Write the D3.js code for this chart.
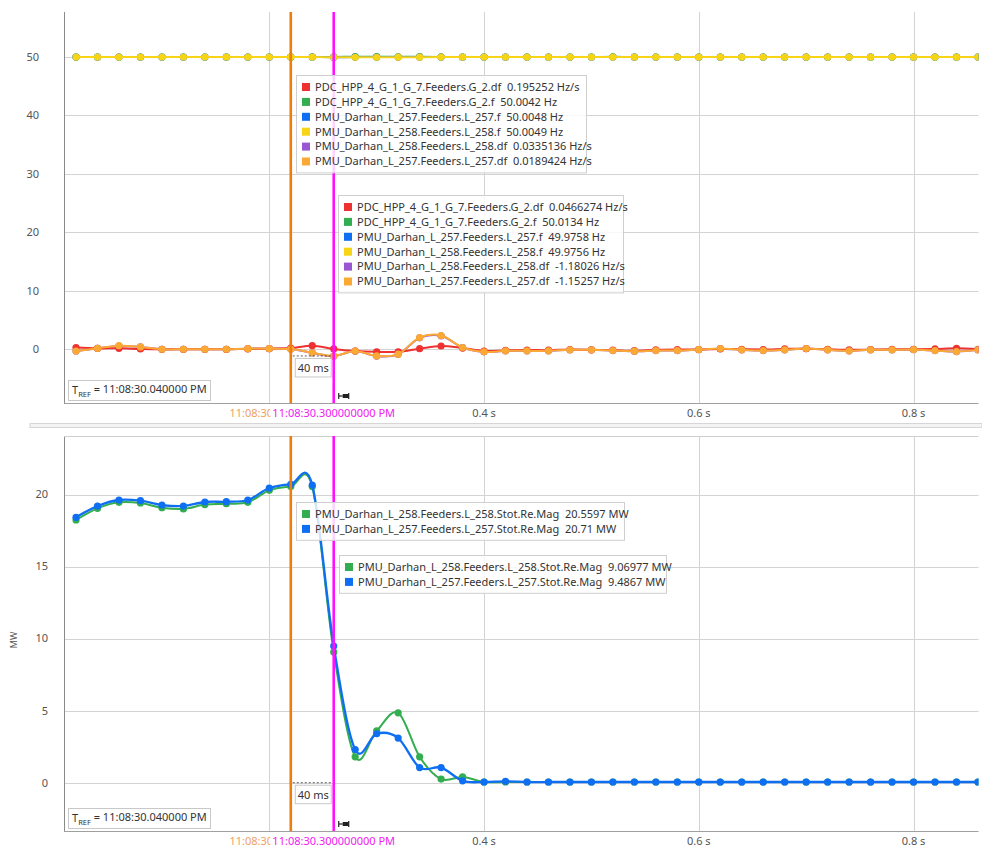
<!DOCTYPE html>
<html>
<head>
<meta charset="utf-8">
<script src="https://cdn.jsdelivr.net/npm/d3@7"></script>
<style>
  html, body { margin: 0; padding: 0; background: #fff; }
  svg { display: block; font-family: "Noto Sans", "Open Sans", sans-serif; }
  text { white-space: pre; }
</style>
</head>
<body>
<svg id="chart" width="982" height="850"></svg>
<script>
// Sample times (s, relative to T_REF), one sample every 20 ms
const times = [0.02,0.04,0.06,0.08,0.10,0.12,0.14,0.16,0.18,0.20,0.22,0.24,0.26,0.28,0.30,
  0.32,0.34,0.36,0.38,0.40,0.42,0.44,0.46,0.48,0.50,0.52,0.54,0.56,0.58,0.60,0.62,0.64,
  0.66,0.68,0.70,0.72,0.74,0.76,0.78,0.80,0.82,0.84,0.86];

// Frequency panel series (Hz and Hz/s)
const g2Freq = [50.00,50.00,50.00,50.00,50.00,50.00,50.00,50.00,50.00,50.00,50.0042,50.01,50.0134,50.05,50.05,
  50.04,50.05,50.01,50.00,50.00,50.00,50.00,50.00,50.00,50.00,50.04,50.00,50.00,50.00,50.00,50.00,50.00,
  50.00,50.00,50.00,50.00,50.00,50.00,50.00,50.00,50.00,50.00,50.00];
const l257Freq = [49.99,49.99,50.00,50.00,50.00,50.00,50.00,50.00,50.00,50.00,50.0048,50.00,49.9758,49.98,49.98,
  49.99,49.99,50.00,50.00,50.00,50.00,50.00,50.00,50.00,50.00,50.00,50.00,50.00,50.00,50.00,50.00,50.00,
  50.00,50.00,50.00,50.00,50.00,50.00,50.00,50.00,50.00,50.00,50.00];
const l258Freq = [49.98,49.98,49.99,50.00,50.00,50.00,50.00,50.00,50.00,50.00,50.0049,49.99,49.9756,49.96,49.96,
  49.97,49.97,49.98,49.98,49.98,49.98,49.98,49.98,49.98,49.98,49.98,49.98,49.98,49.98,49.98,49.98,49.98,
  49.98,49.98,49.98,49.98,49.98,49.98,49.98,49.98,49.98,49.98,49.98];
const g2Df = [0.30,0.15,0.15,0.05,0.00,0.00,0.00,0.00,0.05,0.10,0.195252,0.60,0.0466274,-0.30,-0.45,
  -0.45,0.10,0.55,0.20,-0.30,-0.20,-0.15,-0.15,-0.05,-0.10,-0.15,-0.25,-0.10,-0.05,-0.05,0.05,0.00,
  -0.05,0.05,0.10,0.00,-0.10,-0.05,0.00,0.00,0.05,0.15,0.00];
const l258Df = [-0.30,0.15,0.55,0.40,0.00,0.00,0.00,0.00,0.10,0.10,0.0335136,-0.62,-1.18026,-0.32,-1.17,
  -0.87,1.95,2.30,0.28,-0.45,-0.28,-0.28,-0.28,-0.10,-0.10,-0.23,-0.34,-0.23,-0.23,-0.06,0.10,-0.11,
  -0.23,-0.11,0.11,-0.11,-0.28,-0.11,-0.11,-0.06,-0.23,-0.40,-0.11];
const l257Df = [-0.30,0.15,0.60,0.40,0.00,0.00,0.00,0.00,0.10,0.10,0.0189424,-0.60,-1.15257,-0.30,-1.15,
  -0.85,2.00,2.35,0.30,-0.45,-0.28,-0.28,-0.28,-0.11,-0.11,-0.23,-0.34,-0.23,-0.23,-0.06,0.11,-0.11,
  -0.23,-0.11,0.11,-0.11,-0.28,-0.11,-0.11,-0.06,-0.23,-0.40,-0.11];

// Active power panel series (MW)
const l258Mw = [18.23,19.04,19.46,19.41,19.08,19.00,19.30,19.36,19.46,20.29,20.5597,20.55,9.06977,1.80,3.60,
  4.85,1.80,0.25,0.40,0.05,0.05,0.05,0.05,0.05,0.05,0.05,0.05,0.05,0.05,0.05,0.05,0.05,
  0.05,0.05,0.05,0.05,0.05,0.05,0.05,0.05,0.05,0.05,0.05];
const l257Mw = [18.42,19.20,19.62,19.57,19.27,19.20,19.48,19.50,19.62,20.45,20.71,20.66,9.4867,2.30,3.40,
  3.10,1.05,1.05,0.13,0.05,0.10,0.05,0.05,0.05,0.05,0.05,0.05,0.05,0.05,0.05,0.05,0.05,
  0.05,0.05,0.05,0.05,0.05,0.05,0.05,0.05,0.05,0.05,0.05];

// Axis ticks
const timeTicks = [0.2, 0.4, 0.6, 0.8];
const timeTickLabels = ["0.2 s", "0.4 s", "0.6 s", "0.8 s"];
const freqTicks = [0, 10, 20, 30, 40, 50];
const mwTicks = [0, 5, 10, 15, 20];

// Cursors
const cursorTimes = [0.22, 0.26];
const cursorLabels = ["11:08:30.260000000 PM", "11:08:30.300000000 PM"];
const deltaLabel = "40 ms";
const trefLabel = " = 11:08:30.040000 PM";

// Series names and cursor-value legends
const freqNames = ["PDC_HPP_4_G_1_G_7.Feeders.G_2.df", "PDC_HPP_4_G_1_G_7.Feeders.G_2.f",
  "PMU_Darhan_L_257.Feeders.L_257.f", "PMU_Darhan_L_258.Feeders.L_258.f",
  "PMU_Darhan_L_258.Feeders.L_258.df", "PMU_Darhan_L_257.Feeders.L_257.df"];
const freqUnits = ["Hz/s", "Hz", "Hz", "Hz", "Hz/s", "Hz/s"];
const freqCursorA = ["0.195252", "50.0042", "50.0048", "50.0049", "0.0335136", "0.0189424"];
const freqCursorB = ["0.0466274", "50.0134", "49.9758", "49.9756", "-1.18026", "-1.15257"];
const mwNames = ["PMU_Darhan_L_258.Feeders.L_258.Stot.Re.Mag", "PMU_Darhan_L_257.Feeders.L_257.Stot.Re.Mag"];
const mwCursorA = ["20.5597", "20.71"];
const mwCursorB = ["9.06977", "9.4867"];

const C = {
  red: "#ee3131", green: "#32ad4f", blue: "#0f6ff2", yellow: "#f7d516",
  purple: "#9b57d3", orange: "#fba935", cursorA: "#ef7d09", cursorB: "#ff10ff"
};
const freqColors = [C.red, C.green, C.blue, C.yellow, C.purple, C.orange];
const mwColors = [C.green, C.blue];

const svg = d3.select("#chart");
const X0 = 64, X1 = 978.5;
const x = d3.scaleLinear().domain([0.0088, 0.8605]).range([X0, X1]);

function panel(cfg) {
  const { top, bottom, y, ticks, tickX, series, id } = cfg;
  const g = svg.append("g");
  g.append("clipPath").attr("id", id).append("rect")
    .attr("x", X0).attr("y", top).attr("width", X1 - X0).attr("height", bottom - top);

  // grid
  g.append("g").selectAll("line.h").data(ticks).join("line")
    .attr("x1", X0).attr("x2", X1).attr("y1", d => Math.round(y(d)) + 0.5).attr("y2", d => Math.round(y(d)) + 0.5)
    .attr("stroke", "#d3d3d3").attr("stroke-width", 1);
  g.append("g").selectAll("line.v").data(timeTicks).join("line")
    .attr("x1", d => Math.round(x(d)) + 0.5).attr("x2", d => Math.round(x(d)) + 0.5)
    .attr("y1", top).attr("y2", bottom)
    .attr("stroke", "#d3d3d3").attr("stroke-width", 1);

  // y tick labels
  g.append("g").selectAll("text").data(ticks).join("text")
    .attr("x", tickX).attr("y", d => y(d)).attr("dy", "0.35em")
    .attr("text-anchor", "end").attr("font-size", 11).attr("fill", "#555")
    .text(d => d);

  // axes
  g.append("line").attr("x1", X0 + 0.5).attr("x2", X0 + 0.5).attr("y1", top).attr("y2", bottom)
    .attr("stroke", "#8a8a8a");
  g.append("line").attr("x1", X0).attr("x2", X1).attr("y1", bottom + 0.5).attr("y2", bottom + 0.5)
    .attr("stroke", "#a0a0a0");

  // series
  const line = d3.line().curve(d3.curveCatmullRom.alpha(0))
    .x((d, i) => x(times[i])).y(d => y(d));
  const sg = g.append("g").attr("clip-path", `url(#${id})`);
  series.forEach(s => {
    sg.append("path").attr("d", line(s.values)).attr("fill", "none")
      .attr("stroke", s.color).attr("stroke-width", s.width || 2).attr("stroke-linejoin", "round");
    sg.append("g").selectAll("circle").data(s.values).join("circle")
      .attr("cx", (d, i) => x(times[i])).attr("cy", d => y(d)).attr("r", 3.6)
      .attr("fill", s.color);
  });
  return g;
}

// ---- frequency panel ----
const yF = d3.scaleLinear().domain([-9.2, 57.7]).range([403, 12]);
panel({
  id: "clipF", top: 12, bottom: 403, y: yF, ticks: freqTicks, tickX: 39,
  series: [
    { values: l258Df, color: C.purple },
    { values: g2Df, color: C.red },
    { values: l257Df, color: C.orange },
    { values: g2Freq, color: C.green },
    { values: l257Freq, color: C.blue },
    { values: l258Freq, color: C.yellow }
  ]
});

// ---- active power panel ----
const yP = d3.scaleLinear().domain([-3.35, 24.06]).range([831, 436]);
panel({
  id: "clipP", top: 436, bottom: 831, y: yP, ticks: mwTicks, tickX: 48,
  series: [
    { values: l258Mw, color: C.green },
    { values: l257Mw, color: C.blue, width: 2.3 }
  ]
});
svg.append("line").attr("x1", X0).attr("x2", X1).attr("y1", 436.5).attr("y2", 436.5).attr("stroke", "#cfcfcf");
svg.append("text").attr("transform", "translate(17,640) rotate(-90)")
  .attr("text-anchor", "middle").attr("font-size", 9).attr("fill", "#555").text("MW");

// panel separator
svg.append("rect").attr("x", 30).attr("y", 423.5).attr("width", 952).attr("height", 4)
  .attr("fill", "#f3f3f3").attr("stroke", "#d6d6d6");

// ---- cursors, time labels, annotations ----
let clipCount = 0;
function cursors(top, bottom, deltaY, tAxisY) {
  const g = svg.append("g");

  cursorTimes.forEach((t, i) => {
    g.append("line").attr("x1", x(t)).attr("x2", x(t)).attr("y1", top).attr("y2", bottom)
      .attr("stroke", i === 0 ? C.cursorA : C.cursorB).attr("stroke-width", 2.6);
  });

  // cursor time labels: the later cursor's label hides the tail of the earlier one
  const labelLayer = g.append("g");
  const labA = labelLayer.append("text").attr("x", x(cursorTimes[0])).attr("y", tAxisY).attr("dy", "0.35em")
    .attr("text-anchor", "middle").attr("font-size", 11).attr("fill", "#f0a064").text(cursorLabels[0]);
  const labB = labelLayer.append("text").attr("x", x(cursorTimes[1])).attr("y", tAxisY).attr("dy", "0.35em")
    .attr("text-anchor", "middle").attr("font-size", 11).attr("fill", "#f020f0").text(cursorLabels[1]);
  const b0 = labA.node().getBBox(), b1 = labB.node().getBBox();
  // keep only the visible head of the earlier label, clipped where the later label starts
  const visibleEnd = b1.x - 2;
  labA.attr("x", b0.x).attr("text-anchor", "start").text(cursorLabels[0].slice(0, 8));
  const cid = "cur" + (clipCount++);
  g.append("clipPath").attr("id", cid).append("rect")
    .attr("x", b0.x - 2).attr("y", b0.y - 2).attr("width", visibleEnd - b0.x + 2).attr("height", b0.height + 4);
  labA.attr("clip-path", `url(#${cid})`);

  // time tick labels that are not covered by cursor labels
  const left = b0.x - 2, right = b1.x + b1.width + 2;
  g.selectAll("text.tick").data(timeTicks.filter(d => x(d) + 14 < left || x(d) - 14 > right)).join("text")
    .attr("class", "tick")
    .attr("x", d => x(d)).attr("y", tAxisY).attr("dy", "0.35em").attr("text-anchor", "middle")
    .attr("font-size", 11).attr("fill", "#555").text(d => timeTickLabels[timeTicks.indexOf(d)]);

  // delta marker between cursors
  const xa = x(cursorTimes[0]), xb = x(cursorTimes[1]);
  g.append("line").attr("x1", xa + 2).attr("x2", xb - 2).attr("y1", deltaY).attr("y2", deltaY)
    .attr("stroke", "#333").attr("stroke-dasharray", "2,2").attr("stroke-width", 0.8);
  g.append("rect").attr("x", xa + 4.5).attr("y", deltaY + 2.5).attr("width", 36).attr("height", 18.5)
    .attr("fill", "#fff").attr("stroke", "#c8c8c8");
  g.append("text").attr("x", xa + 22.5).attr("y", deltaY + 12).attr("dy", "0.35em")
    .attr("text-anchor", "middle").attr("font-size", 11).attr("fill", "#333").text(deltaLabel);

  // pin icon
  const px = xb + 5, py = bottom - 7;
  g.append("line").attr("x1", px).attr("x2", px).attr("y1", py - 3).attr("y2", py + 3).attr("stroke", "#222").attr("stroke-width", 1.2);
  g.append("line").attr("x1", px).attr("x2", px + 4).attr("y1", py).attr("y2", py).attr("stroke", "#222").attr("stroke-width", 1.2);
  g.append("rect").attr("x", px + 4).attr("y", py - 2).attr("width", 6).attr("height", 4).attr("fill", "#222");
  g.append("line").attr("x1", px + 10).attr("x2", px + 10).attr("y1", py - 3).attr("y2", py + 3).attr("stroke", "#222").attr("stroke-width", 1.2);

  // T_REF box
  const tb = g.append("g");
  tb.append("rect").attr("x", 68.5).attr("y", bottom - 22.5).attr("width", 142).attr("height", 20)
    .attr("fill", "#fff").attr("stroke", "#c8c8c8");
  const tt = tb.append("text").attr("x", 72).attr("y", bottom - 12.5).attr("dy", "0.35em")
    .attr("font-size", 11).attr("fill", "#333");
  tt.append("tspan").text("T");
  tt.append("tspan").attr("font-size", 7.5).attr("dy", "0.3em").text("REF");
  tt.append("tspan").attr("dy", "-0.3em").text(trefLabel);
}
cursors(12, 403, yF(-1.15257), 413);
cursors(436, 831, yP(0), 841);

// ---- cursor value legends ----
function legend(bx, by, bw, names, colors, values, units) {
  const g = svg.append("g");
  const h = names.length * 14.9 + 8;
  g.append("rect").attr("x", bx + 0.5).attr("y", by + 0.5).attr("width", bw).attr("height", h)
    .attr("fill", "#fff").attr("fill-opacity", 0.82).attr("stroke", "#cfcfcf");
  names.forEach((n, i) => {
    const cy = by + 12 + i * 14.9;
    g.append("rect").attr("x", bx + 6).attr("y", cy - 4).attr("width", 8).attr("height", 8).attr("fill", colors[i]);
    g.append("text").attr("x", bx + 19).attr("y", cy).attr("dy", "0.35em")
      .attr("font-size", 11).attr("fill", "#333")
      .text(`${n}  ${values[i]} ${units[i]}`);
  });
}
legend(296, 75, 290, freqNames, freqColors, freqCursorA, freqUnits);
legend(338, 195, 285, freqNames, freqColors, freqCursorB, freqUnits);
legend(296, 502, 328, mwNames, mwColors, mwCursorA, ["MW", "MW"]);
legend(339, 555, 327, mwNames, mwColors, mwCursorB, ["MW", "MW"]);
</script>
</body>
</html>
